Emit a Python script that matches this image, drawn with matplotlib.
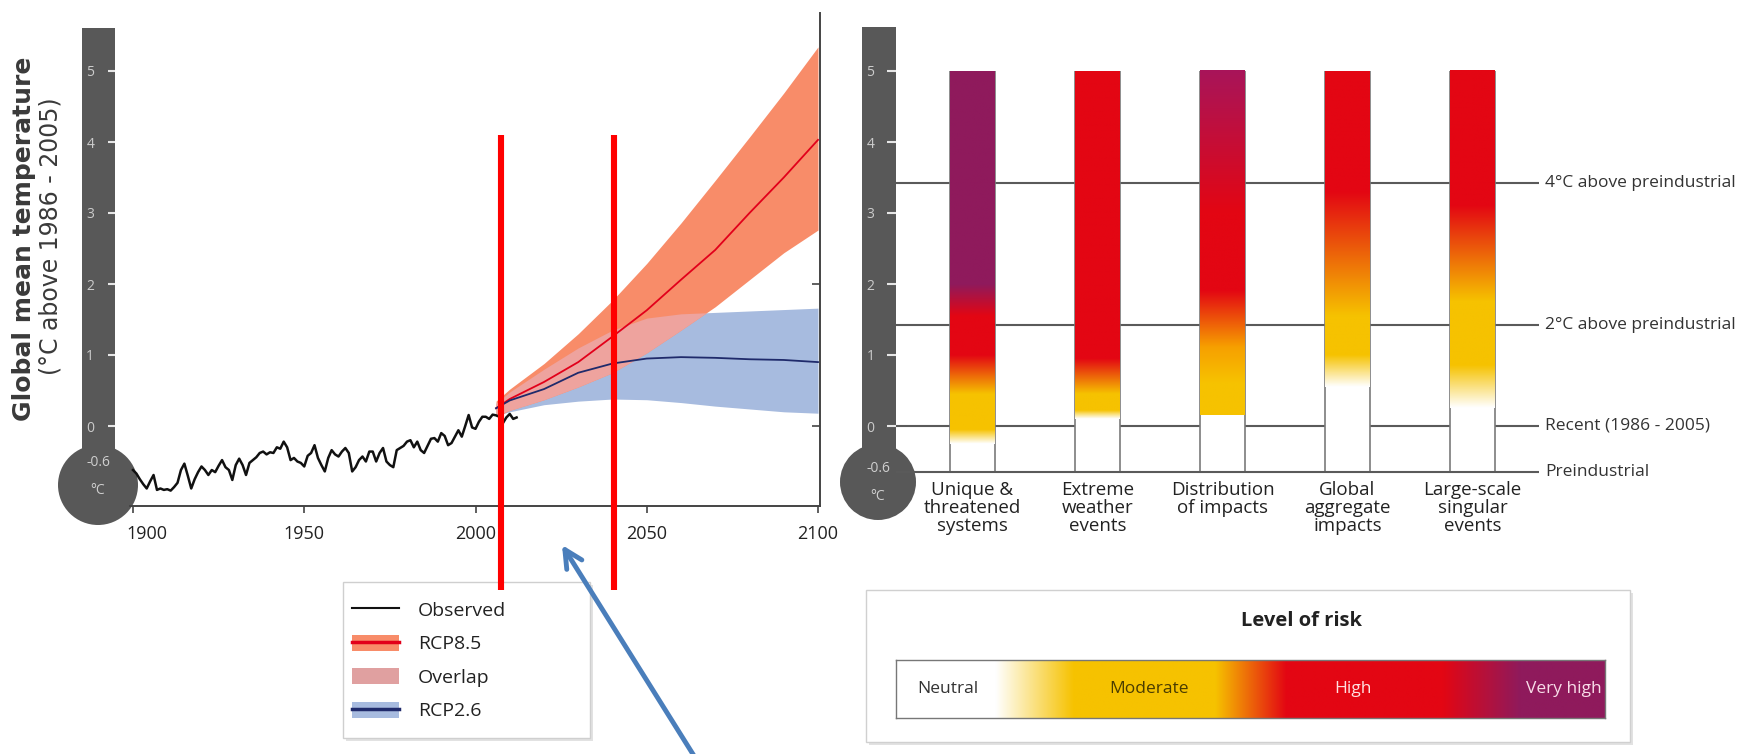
import numpy as np
import matplotlib
matplotlib.use('Agg')
import matplotlib.pyplot as plt
from matplotlib.patches import Rectangle, Circle, Patch
from matplotlib.lines import Line2D
from matplotlib.colors import to_rgb
from matplotlib.transforms import ScaledTranslation

# ---------------- data ----------------
obs_years = list(range(1900, 2013))
obs_temp = [
    -0.62, -0.67, -0.75, -0.82, -0.88, -0.78, -0.69, -0.90, -0.88, -0.90,   # 1900s
    -0.89, -0.91, -0.86, -0.80, -0.62, -0.53, -0.70, -0.88, -0.75, -0.65,   # 1910s
    -0.57, -0.62, -0.69, -0.62, -0.65, -0.56, -0.48, -0.58, -0.62, -0.76,   # 1920s
    -0.55, -0.46, -0.55, -0.69, -0.52, -0.48, -0.44, -0.38, -0.36, -0.40,   # 1930s
    -0.37, -0.38, -0.30, -0.32, -0.22, -0.30, -0.48, -0.45, -0.50, -0.52,   # 1940s
    -0.57, -0.42, -0.38, -0.27, -0.45, -0.55, -0.64, -0.45, -0.34, -0.40,   # 1950s
    -0.43, -0.36, -0.31, -0.38, -0.64, -0.58, -0.48, -0.43, -0.50, -0.36,   # 1960s
    -0.36, -0.50, -0.38, -0.31, -0.50, -0.55, -0.58, -0.34, -0.31, -0.28,   # 1970s
    -0.22, -0.20, -0.30, -0.22, -0.34, -0.38, -0.28, -0.18, -0.17, -0.22,   # 1980s
    -0.10, -0.14, -0.27, -0.24, -0.15, -0.06, -0.15, 0.00, 0.155, -0.02,    # 1990s
    -0.04, 0.06, 0.13, 0.13, 0.10, 0.16, 0.15, 0.13, 0.04, 0.12,            # 2000s
    0.17, 0.10, 0.12,                                                       # 2010-2012
]
proj_years = [2006, 2010, 2020, 2030, 2040, 2050, 2060, 2070, 2080, 2090, 2100]
rcp85_mean = [0.25, 0.38, 0.62, 0.90, 1.26, 1.63, 2.06, 2.48, 3.00, 3.50, 4.03]
rcp85_hi   = [0.35, 0.52, 0.88, 1.30, 1.77, 2.29, 2.86, 3.46, 4.07, 4.69, 5.34]
rcp85_lo   = [0.13, 0.22, 0.37, 0.55, 0.75, 1.03, 1.35, 1.68, 2.06, 2.44, 2.76]
rcp26_mean = [0.25, 0.36, 0.52, 0.75, 0.88, 0.95, 0.97, 0.96, 0.94, 0.93, 0.90]
rcp26_hi   = [0.32, 0.48, 0.80, 1.10, 1.35, 1.52, 1.58, 1.60, 1.62, 1.64, 1.66]
rcp26_lo   = [0.15, 0.20, 0.30, 0.35, 0.38, 0.37, 0.33, 0.28, 0.24, 0.20, 0.18]
marker_years = [2007.3, 2040.4]
x_ticks = [1900, 1950, 2000, 2050, 2100]
temp_ticks = [0, 1, 2, 3, 4, 5]

categories = ["Unique &\nthreatened\nsystems", "Extreme\nweather\nevents",
              "Distribution\nof impacts", "Global\naggregate\nimpacts",
              "Large-scale\nsingular\nevents"]
ref_levels = [3.42, 1.42, 0.0, -0.65]
ref_labels = ["4°C above preindustrial", "2°C above preindustrial",
              "Recent (1986 - 2005)", "Preindustrial"]

N_, M_, H_, VH_ = '#ffffff', '#f6c200', '#e30613', '#8f1a5c'
risk_stops = [
    [(-0.25, N_), (-0.05, M_), (0.45, M_), (1.0, H_), (1.55, H_), (2.0, VH_), (5.0, VH_)],
    [(0.10, N_), (0.22, M_), (0.45, M_), (0.95, H_), (5.0, H_)],
    [(0.15, M_), (0.60, M_), (1.10, '#f7a000'), (1.90, H_), (3.0, H_), (5.0, '#a8155a')],
    [(0.55, N_), (1.00, M_), (1.55, M_), (3.30, H_), (5.0, H_)],
    [(0.25, N_), (0.85, M_), (1.75, M_), (3.10, H_), (5.0, H_)],
]
risk_levels = ["Neutral", "Moderate", "High", "Very high"]
risk_legend_stops = [(0.0, N_), (0.14, N_), (0.25, M_), (0.45, M_), (0.55, H_),
                     (0.77, H_), (0.88, VH_), (1.0, VH_)]

# ---------------- layout ----------------
W, H, DPI = 1745, 754, 100
plt.rcParams['font.family'] = ['Open Sans', 'DejaVu Sans']
fig = plt.figure(figsize=(W / DPI, H / DPI), dpi=DPI)
fig.patch.set_facecolor('white')

ax_bg = fig.add_axes([0, 0, 1, 1], zorder=0)
ax_bg.set_xlim(0, W)
ax_bg.set_ylim(H, 0)
ax_bg.axis('off')


def px_axes(x0, y0, x1, y1, **kw):
    return fig.add_axes([x0 / W, 1 - y1 / H, (x1 - x0) / W, (y1 - y0) / H], **kw)


def gradient_rgb(stops, n):
    pos = np.array([s[0] for s in stops])
    cols = np.array([to_rgb(s[1]) for s in stops])
    t = np.linspace(pos[0], pos[-1], n)
    return np.stack([np.interp(t, pos, cols[:, c]) for c in range(3)], axis=1)


STEM = '#585858'
T_BOT, T_TOP = -80 / 71, 413 / 71

# thermometers
for sx0, sx1, stop, bx, by, br, ty1, ty2 in [(82, 115, 28, 98, 485, 40, 462, 490),
                                              (862, 896, 27, 878, 482, 38, 469, 496)]:
    ax_bg.add_patch(Rectangle((sx0, stop), sx1 - sx0, by - stop, color=STEM, lw=0))
    ax_bg.add_patch(Circle((bx, by), br, color=STEM, lw=0))
    ax_bg.text(bx, ty1, "-0.6", color='#cfcfcf', fontsize=10, ha='center', va='center')
    ax_bg.text(bx, ty2, "°C", color='#cfcfcf', fontsize=10, ha='center', va='center')

# ---------------- left panel ----------------
k = 3.425
ax1 = px_axes(115, 13, 820, 506, zorder=2)
ax1.patch.set_alpha(0)
ax1.set_xlim(1900 - 18 / k, 1900 + (820 - 133) / k)
ax1.set_ylim(T_BOT, T_TOP)

ORANGE, BLUE, PINK = '#f88c69', '#a7bbdf', '#eea39e'
lo_ov = np.maximum(rcp85_lo, rcp26_lo)
hi_ov = np.minimum(rcp85_hi, rcp26_hi)
ax1.fill_between(proj_years, rcp26_lo, rcp26_hi, color=BLUE, lw=0, zorder=1)
ax1.fill_between(proj_years, rcp85_lo, rcp85_hi, color=ORANGE, lw=0, zorder=2)
ax1.fill_between(proj_years, lo_ov, hi_ov, where=(hi_ov > lo_ov), interpolate=True,
                 color=PINK, lw=0, zorder=3)
ax1.plot(proj_years, rcp85_mean, color='#e2001a', lw=1.3, zorder=4)
ax1.plot(proj_years, rcp26_mean, color='#1f2a6b', lw=1.3, zorder=4)
ax1.plot(obs_years, obs_temp, color='#111111', lw=1.8, zorder=5)

for s in ['top', 'left']:
    ax1.spines[s].set_visible(False)
for s in ['bottom', 'right']:
    ax1.spines[s].set_color('#444444')
    ax1.spines[s].set_linewidth(1.4)
ax1.spines['bottom'].set_bounds(1899, ax1.get_xlim()[1])
ax1.set_xticks(x_ticks)
ax1.set_xticklabels([str(v) for v in x_ticks])
ax1.tick_params(axis='x', direction='out', length=5, width=1.2, color='#444444',
                labelsize=13, labelcolor='#222222', pad=9)
first_lab = ax1.get_xticklabels()[0]
first_lab.set_transform(first_lab.get_transform() +
                        ScaledTranslation(14 / DPI, 0, fig.dpi_scale_trans))
ax1.set_yticks(temp_ticks)
ax1.tick_params(axis='y', direction='out', length=5, width=1.5, color='#e6e6e6',
                labelsize=10, labelcolor='#cccccc', pad=10)
axr = ax1.twinx()
axr.set_ylim(T_BOT, T_TOP)
axr.set_yticks([0, 2])
axr.set_yticklabels([])
axr.tick_params(axis='y', direction='in', length=6, width=1.2, color='#444444')
for s in axr.spines.values():
    s.set_visible(False)

ax1.vlines(marker_years, -2.31, 4.1, color='#ff0000', lw=4.4, zorder=20, clip_on=False)

fig.text(24 / W, 1 - 239 / H, "Global mean temperature", rotation=90, ha='center',
         va='center', fontsize=18, fontweight='bold', color='#3a3a3a', family='DejaVu Sans')
fig.text(51 / W, 1 - 236 / H, "(°C above 1986 - 2005)", rotation=90, ha='center',
         va='center', fontsize=17, color='#3a3a3a', family='DejaVu Sans')

# legend frame + legend
ax_bg.add_patch(Rectangle((346, 585), 247, 156, color='#e2e2e2', lw=0))
ax_bg.add_patch(Rectangle((343, 582), 247, 156, facecolor='white', edgecolor='#cfcfcf', lw=1))
handles = [Line2D([], [], color='#111111', lw=1.5),
           (Patch(facecolor=ORANGE, edgecolor='none'), Line2D([], [], color='#e2001a', lw=2.5)),
           Patch(facecolor='#e0a0a0', edgecolor='none'),
           (Patch(facecolor=BLUE, edgecolor='none'), Line2D([], [], color='#1f2a6b', lw=2.5))]
ax1.legend(handles, ["Observed", "RCP8.5", "Overlap", "RCP2.6"], loc='upper left',
           bbox_to_anchor=(352 / W, 1 - 601 / H), bbox_transform=fig.transFigure,
           frameon=False, borderaxespad=0, borderpad=0, fontsize=14, labelspacing=0.76,
           handlelength=2.4, handleheight=0.9, handletextpad=1.0, labelcolor='#222222')

# blue arrow
ax_bg.annotate('', xy=(562, 545), xytext=(706, 775),
               arrowprops=dict(arrowstyle='->', color='#4a7ebb', lw=3.5,
                               mutation_scale=32, shrinkA=0, shrinkB=0),
               annotation_clip=False)

# ---------------- right panel ----------------
bw = 0.36
ax2 = px_axes(896, 13, 1540, 506, zorder=2)
ax2.patch.set_alpha(0)
ax2.set_xlim(-0.612, 4.54)
ax2.set_ylim(T_BOT, T_TOP)
for s in ax2.spines.values():
    s.set_visible(False)
ax2.set_xticks([])
ax2.set_yticks(temp_ticks)
ax2.tick_params(axis='y', direction='out', length=6.5, width=1.5, color='#e6e6e6',
                labelsize=10, labelcolor='#cccccc', pad=9)

for lev in ref_levels:
    ax2.hlines(lev, -0.612, 4.53, color='#5a5a5a', lw=1.5,
               zorder=4 if lev == ref_levels[-1] else 1, clip_on=False)
for lev, lab in zip(ref_levels, ref_labels):
    ax2.text(4.58, lev, lab, ha='left', va='center', fontsize=12.5, color='#333333',
             clip_on=False)

for i, (cat, stops) in enumerate(zip(categories, risk_stops)):
    ax2.add_patch(Rectangle((i - bw / 2, ref_levels[-1]), bw, 5 - ref_levels[-1],
                            facecolor='white', edgecolor='none', zorder=2))
    ax2.vlines([i - bw / 2, i + bw / 2], ref_levels[-1], 5, color='#7a7a7a', lw=1.2, zorder=2.5)
    rgb = gradient_rgb(stops, 400)[:, None, :]
    ax2.imshow(rgb, origin='lower', aspect='auto', interpolation='bilinear',
               extent=[i - bw / 2, i + bw / 2, stops[0][0], stops[-1][0]], zorder=3)
    ax2.text(i, -0.78, cat, ha='center', va='top', fontsize=13.5, linespacing=1.0,
             color='#222222', clip_on=False)
ax2.set_xlim(-0.612, 4.54)
ax2.set_ylim(T_BOT, T_TOP)

# risk legend
ax_bg.add_patch(Rectangle((869, 593), 764, 152, color='#e2e2e2', lw=0))
ax_bg.add_patch(Rectangle((866, 590), 764, 152, facecolor='white', edgecolor='#d0d0d0', lw=1))
ax_bg.text(1302, 621, "Level of risk", ha='center', va='center', fontsize=14.5,
           fontweight='bold', color='#222222')
ax3 = px_axes(896, 660, 1605, 718, zorder=2)
grad = gradient_rgb(risk_legend_stops, 600)[None, :, :]
ax3.imshow(grad, aspect='auto', extent=[0, 1, 0, 1], interpolation='bilinear')
ax3.set_xlim(0, 1)
ax3.set_ylim(0, 1)
ax3.set_xticks([])
ax3.set_yticks([])
for s in ax3.spines.values():
    s.set_color('#777777')
    s.set_linewidth(1)
for lab, xf, col in zip(risk_levels, [0.073, 0.357, 0.645, 0.942],
                        ['#333333', '#4a3c00', '#ffe0e0', '#f8dde8']):
    ax3.text(xf, 0.5, lab, ha='center', va='center', fontsize=12.5, color=col)

fig.savefig('out.png', dpi=DPI, facecolor='white')
